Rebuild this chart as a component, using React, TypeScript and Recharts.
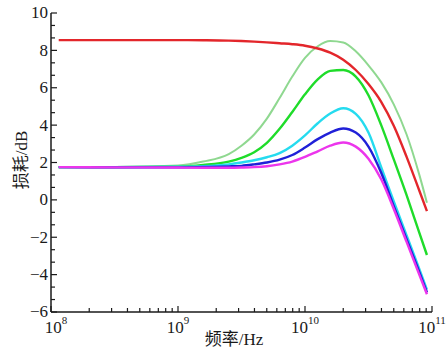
import { LineChart, Line, XAxis, YAxis, Label } from 'recharts';

// frequency samples (Hz)
const freq = [
  1.15e8, 3.16e8, 1e9, 1.58e9, 2.51e9, 3.16e9, 3.98e9, 5.01e9, 6.31e9, 7.94e9, 1e10,
  1.26e10, 1.58e10, 2e10, 2.51e10, 3.16e10, 3.98e10, 5.01e10, 6.31e10, 7.94e10, 9.12e10,
];

const red = [8.55, 8.55, 8.55, 8.54, 8.52, 8.5, 8.47, 8.43, 8.38, 8.33, 8.25, 8.1, 7.88, 7.5, 6.95, 6.2, 5.25, 3.95, 2.3, 0.5, -0.6];
const paleGreen = [1.75, 1.76, 1.84, 2.05, 2.45, 2.9, 3.5, 4.35, 5.45, 6.6, 7.6, 8.22, 8.5, 8.42, 7.95, 7.2, 6.3, 5.1, 3.5, 1.35, -0.15];
const green = [1.75, 1.75, 1.78, 1.87, 2.05, 2.25, 2.55, 3.05, 3.8, 4.7, 5.65, 6.45, 6.9, 6.95, 6.6, 5.6, 4.0, 2.15, 0.25, -1.75, -2.95];
const cyan = [1.75, 1.75, 1.77, 1.8, 1.9, 2.0, 2.12, 2.28, 2.5, 2.9, 3.45, 4.1, 4.62, 4.9, 4.6, 3.6, 1.75, -0.1, -1.9, -3.7, -4.8];
const blue = [1.75, 1.74, 1.74, 1.76, 1.79, 1.82, 1.9, 2.0, 2.15, 2.4, 2.8, 3.25, 3.6, 3.82, 3.6, 2.85, 1.45, -0.35, -2.1, -3.85, -4.95];
const magenta = [1.75, 1.74, 1.73, 1.72, 1.72, 1.73, 1.75, 1.8, 1.9, 2.05, 2.3, 2.6, 2.9, 3.07, 2.85, 2.2, 1.1, -0.5, -2.25, -4.0, -5.05];

const xMajor = [1e8, 1e9, 1e10, 1e11];
const xMinorMult = [2, 3, 4, 5, 6, 7, 8, 9];
const yMajor = [-6, -4, -2, 0, 2, 4, 6, 8, 10];

const xTicks = [
  ...xMajor,
  ...xMajor.slice(0, 3).flatMap((d) => xMinorMult.map((m) => d * m)),
];
const yTicks = [
  ...yMajor,
  ...yMajor.slice(0, -1).flatMap((v) => [v + 2 / 3, v + 4 / 3]),
];

const data = freq.map((f, i) => ({
  f,
  red: red[i],
  paleGreen: paleGreen[i],
  green: green[i],
  cyan: cyan[i],
  blue: blue[i],
  magenta: magenta[i],
}));

const FONT = "'Liberation Serif', 'Times New Roman', 'DejaVu Serif', 'Noto Sans CJK SC', serif";
const INK = '#1a1a1a';

function XTick({ x, y, payload }: any) {
  const v = payload.value as number;
  const exp = Math.round(Math.log10(v));
  const major = Math.abs(v - Math.pow(10, exp)) < 1;
  // first label sits a little right of its tick, clear of the −6
  const lx = exp === 8 ? x + 5 : x;
  return (
    <g>
      <line x1={x} y1={y} x2={x} y2={y - (major ? 6 : 4)} stroke={INK} strokeWidth={1.2} />
      {major && (
        <text x={lx} y={y + 21} textAnchor="middle" style={{ fontFamily: FONT }} fontSize={17} fill={INK}>
          <tspan>10</tspan>
          <tspan dy={-9} fontSize={11}>{exp}</tspan>
        </text>
      )}
    </g>
  );
}

function YTick({ x, y, payload }: any) {
  const v = payload.value as number;
  const major = Math.abs(v - Math.round(v)) < 1e-6;
  return (
    <g>
      <line x1={x} y1={y} x2={x + (major ? 6 : 4)} y2={y} stroke={INK} strokeWidth={1.2} />
      {major && (
        <text x={x - 3} y={y} dy="0.32em" textAnchor="end" style={{ fontFamily: FONT }} fontSize={17} fill={INK}>
          {v < 0 ? `\u2212${Math.abs(v)}` : v}
        </text>
      )}
    </g>
  );
}

export default function App() {
  return (
    <div style={{ position: 'absolute', left: 0, top: 0, background: '#fff' }}>
      <LineChart width={446} height={349} data={data} margin={{ top: 13, right: 14, left: 0, bottom: 0 }}>
        <XAxis
          dataKey="f"
          type="number"
          scale="log"
          domain={[1e8, 1e11]}
          ticks={xTicks}
          interval={0}
          allowDataOverflow
          height={37}
          tickSize={0}
          tickMargin={0}
          tickLine={false}
          tick={<XTick />}
          stroke={INK}
          strokeWidth={1.5}
        >
          <Label
            content={() => (
              <text x={234} y={345} textAnchor="middle" style={{ fontFamily: FONT }} fontSize={17} fill={INK}>
                频率/Hz
              </text>
            )}
          />
        </XAxis>
        <XAxis xAxisId="top" orientation="top" type="number" domain={[0, 1]} height={0} tick={false} tickLine={false} stroke="#333" strokeWidth={1.5} />
        <YAxis
          type="number"
          domain={[-6, 10]}
          ticks={yTicks}
          interval={0}
          allowDataOverflow
          width={51}
          tickSize={0}
          tickMargin={0}
          tickLine={false}
          tick={<YTick />}
          stroke={INK}
          strokeWidth={1.5}
        >
          <Label
            content={() => (
              <text
                x={21}
                y={160}
                textAnchor="middle"
                style={{ fontFamily: FONT }}
                fontSize={17}
                fill={INK}
                transform="rotate(-90 21 160)"
                dy="0.35em"
              >
                损耗/dB
              </text>
            )}
          />
        </YAxis>
        <YAxis yAxisId="right" orientation="right" type="number" domain={[0, 1]} width={0} tick={false} tickLine={false} stroke="#333" strokeWidth={1.5} />
        <Line dataKey="paleGreen" type="monotone" stroke="#8fd890" strokeWidth={2} dot={false} isAnimationActive={false} />
        <Line dataKey="red" type="monotone" stroke="#e3262b" strokeWidth={2.4} dot={false} isAnimationActive={false} />
        <Line dataKey="green" type="monotone" stroke="#1fdc2a" strokeWidth={2.4} dot={false} isAnimationActive={false} />
        <Line dataKey="cyan" type="monotone" stroke="#25dbef" strokeWidth={2.4} dot={false} isAnimationActive={false} />
        <Line dataKey="blue" type="monotone" stroke="#2020d8" strokeWidth={2.4} dot={false} isAnimationActive={false} />
        <Line dataKey="magenta" type="monotone" stroke="#ec35ec" strokeWidth={2.4} dot={false} isAnimationActive={false} />
      </LineChart>
    </div>
  );
}
